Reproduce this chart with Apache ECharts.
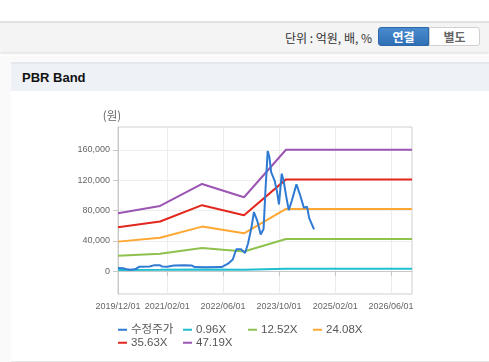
<!DOCTYPE html>
<html><head><meta charset="utf-8">
<script src="https://cdn.jsdelivr.net/npm/echarts@6/dist/echarts.min.js"></script>
<style>
html,body{margin:0;padding:0;width:489px;height:362px;overflow:hidden;background:#fff;font-family:"Liberation Sans",Arial,"Noto Sans CJK KR",sans-serif;}
#bar{position:absolute;left:0;top:21px;width:489px;height:29px;background:#f4f4f4;border-top:2px solid #e2e2e2;box-shadow:0 2px 2px rgba(0,0,0,0.10);}
#unit{position:absolute;right:117px;top:8px;font-size:12px;color:#333;font-family:"Noto Sans CJK KR",sans-serif;line-height:14px;}
#b1{position:absolute;left:378px;top:4px;width:51px;height:19px;background:linear-gradient(#4a8bd0,#2f6fb5);border:1px solid #2c68a8;border-radius:3px 0 0 3px;color:#fff;font-weight:bold;font-size:12px;text-align:center;line-height:17px;font-family:"Noto Sans CJK KR",sans-serif;box-sizing:border-box;}
#b2{position:absolute;left:429px;top:4px;width:51px;height:19px;background:#fff;border:1px solid #d0d0d0;border-radius:0 3px 3px 0;color:#666;font-weight:bold;font-size:12px;text-align:center;line-height:17px;font-family:"Noto Sans CJK KR",sans-serif;box-sizing:border-box;}
#outer{position:absolute;left:0;top:56px;width:489px;height:306px;background:#fafafa;}
#panel{position:absolute;left:11px;top:62px;width:478px;height:299px;background:#fff;border-bottom:1px solid #e8e8e8;}
#head{position:absolute;left:11px;top:62px;width:478px;height:29px;background:#eef1f6;border-top:2px solid #e4e7eb;box-sizing:border-box;}
#title{position:absolute;left:11px;top:6px;font-size:13px;font-weight:bold;color:#111;line-height:16px;}
#chart{position:absolute;left:0;top:0;width:489px;height:362px;}
</style></head>
<body>
<div id="bar"><div id="unit">단위 : 억원, 배, %</div><div id="b1">연결</div><div id="b2">별도</div></div>
<div id="outer"></div>
<div id="panel"></div>
<div id="head"><div id="title">PBR Band</div></div>
<div id="chart"></div>
<script>
// Tick labels
const xTickLabels = ['2019/12/01','2021/02/01','2022/06/01','2023/10/01','2025/02/01','2026/06/01'];
const yTickValues = [0, 40000, 80000, 120000, 160000];
const xRange = ['2019/12/01', '2026/12/01'];
const yRange = [-30000, 190000];

// Series names
const seriesNames = ['수정주가', '0.96X', '12.52X', '24.08X', '35.63X', '47.19X'];

// Band vertex dates
const bandDates = ['2019/12/01','2020/12/01','2021/12/01','2022/12/01','2023/12/01','2026/12/01'];
const band096  = [1600, 1800, 2300, 2000, 3300, 3300];
const band1252 = [20500, 23000, 30500, 26000, 42500, 42500];
const band2408 = [39000, 44000, 58800, 50000, 82000, 82000];
const band3563 = [58000, 65500, 87000, 73800, 121000, 121000];
const band4719 = [76500, 86000, 115000, 97500, 160000, 160000];

// Adjusted price
const priceDates = ['2019/12/01','2020/01/15','2020/02/15','2020/03/20','2020/05/01','2020/06/01','2020/09/01','2020/10/15','2020/12/01','2020/12/20','2021/02/01','2021/04/01','2021/07/01','2021/09/01','2021/10/01','2022/01/01','2022/05/20','2022/07/15','2022/08/25','2022/09/25','2022/11/05','2022/12/10','2023/01/05','2023/02/05','2023/02/25','2023/03/25','2023/04/25','2023/05/20','2023/06/05','2023/06/25','2023/07/10','2023/07/25','2023/08/25','2023/09/15','2023/10/01','2023/10/25','2023/11/10','2023/12/05','2023/12/25','2024/01/20','2024/03/01','2024/04/01','2024/05/05','2024/06/01','2024/06/20','2024/08/01'];
const priceVals  = [4300, 4000, 2500, 2000, 2800, 5800, 6300, 8000, 7800, 6200, 6000, 7500, 7800, 7500, 5500, 5200, 5500, 10000, 15500, 29000, 29000, 24000, 36500, 58500, 78000, 67000, 48500, 55500, 105000, 158500, 150000, 130500, 119000, 104000, 88000, 128500, 119500, 97000, 80500, 92500, 114500, 100700, 83500, 85100, 70000, 55200];

const colors = ['#2f7ad3', '#1fbfcf', '#8fc14e', '#ffa733', '#e3271e', '#9b55b3'];

function pairs(d, v) { return d.map((x, i) => [x, v[i]]); }

const chart = echarts.init(document.getElementById('chart'), null, {renderer: 'canvas'});
const bandData = [band096, band1252, band2408, band3563, band4719];

const series = [{
  name: seriesNames[0], type: 'line', data: pairs(priceDates, priceVals),
  symbol: 'none', lineStyle: {width: 2, color: colors[0]}, itemStyle: {color: colors[0]}, z: 10
}];
bandData.forEach((b, i) => {
  series.push({
    name: seriesNames[i + 1], type: 'line', data: pairs(bandDates, b),
    symbol: 'none', lineStyle: {width: 2, color: colors[i + 1]}, itemStyle: {color: colors[i + 1]}, z: 5 - i
  });
});

const legendPos = [[118, 324], [183, 324], [248, 324], [313, 324], [118, 337], [183, 337]];
const legends = seriesNames.map((n, i) => ({
  data: [n], left: legendPos[i][0], top: legendPos[i][1], padding: 0,
  icon: 'rect', itemWidth: 9, itemHeight: 2, itemGap: 0,
  textStyle: {fontSize: 11.5, color: '#555', fontFamily: '"Liberation Sans", Arial, "Noto Sans CJK KR", sans-serif', padding: [0, 0, 0, -1]}
}));

chart.setOption({
  animation: false,
  legend: legends,
  grid: {left: 118, right: 77, top: 127, bottom: 68, show: true, borderColor: '#cfcfcf', borderWidth: 1, containLabel: false},
  xAxis: {
    type: 'time', min: xRange[0], max: xRange[1],
    axisLine: {lineStyle: {color: '#c8c8c8'}},
    axisTick: {show: true, length: 5, lineStyle: {color: '#c8c8c8'}, customValues: xTickLabels},
    axisLabel: {customValues: xTickLabels, formatter: '{yyyy}/{MM}/{dd}', fontSize: 9, color: '#666', margin: 8, hideOverlap: false, fontFamily: '"Liberation Sans", Arial, sans-serif'},
    splitLine: {show: true, lineStyle: {color: '#ececec'}}
  },
  yAxis: {
    type: 'value', min: yRange[0], max: yRange[1],
    name: '(원)', nameLocation: 'end', nameGap: 6,
    nameTextStyle: {fontSize: 11.5, color: '#666', padding: [0, 12, 0, 0], fontFamily: '"Noto Sans CJK KR", sans-serif'},
    axisLine: {show: true, lineStyle: {color: '#c8c8c8'}},
    axisTick: {show: true, length: 5, lineStyle: {color: '#c8c8c8'}, customValues: yTickValues},
    axisLabel: {customValues: yTickValues, fontSize: 9, color: '#666', margin: 8, fontFamily: '"Liberation Sans", Arial, sans-serif',
      formatter: v => v.toLocaleString('en-US')},
    splitLine: {show: true, lineStyle: {color: '#efefef'}}
  },
  series: series
});
</script>
</body></html>
